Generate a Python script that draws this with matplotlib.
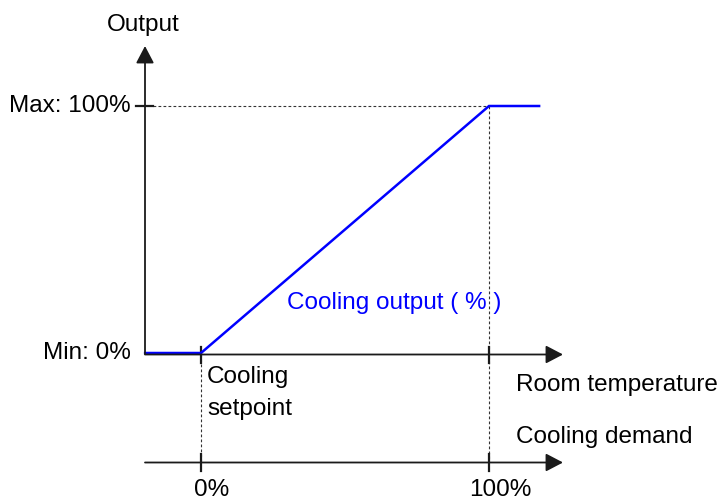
import matplotlib
matplotlib.use("Agg")
import matplotlib.pyplot as plt

plt.rcParams['font.family'] = ['Liberation Sans', 'DejaVu Sans']

# ---- data ----
demand_ticks = [0, 100]
demand_labels = ["0%", "100%"]
output_levels = [0, 100]
output_labels = ["Min: 0%", "Max: 100%"]
curve_demand = [-19.4, 0, 100, 117.4]
curve_output = [0, 0, 100, 100]
curve_label = "Cooling output ( % )"
y_title = "Output"
x_title_top = "Room temperature"
x_title_bottom = "Cooling demand"
setpoint_lines = ["Cooling", "setpoint"]

W, H = 722, 503
fig = plt.figure(figsize=(W / 100, H / 100), dpi=100)
ax = fig.add_axes([0, 0, 1, 1])
ax.axis('off')

# pixel layout -> data mapping
X0, XS = 201, 2.88   # pixel of 0 %, pixels per %
Y0, YS = 353, 2.47
ax.set_xlim(-X0 / XS, (W - X0) / XS)
ax.set_ylim((Y0 - H) / YS, Y0 / YS)

def px(x):
    return (x - X0) / XS

def py(y):
    return (Y0 - y) / YS

axis_col = '#1a1a1a'
dot_col = '#333333'
fs = 17.5
arrow_style = '-|>,head_length=1.05,head_width=0.55'

def arrow(x1, y1, x2, y2):
    ax.annotate('', xy=(x2, y2), xytext=(x1, y1),
                arrowprops=dict(arrowstyle=arrow_style, color=axis_col, lw=1.3,
                                mutation_scale=10, shrinkA=0, shrinkB=0))

# dotted guide lines
ax.plot([px(153), demand_ticks[1]], [output_levels[1], output_levels[1]],
        color=dot_col, lw=0.8, ls=(0, (2.5, 2)))
ax.plot([demand_ticks[1], demand_ticks[1]], [output_levels[1], py(462)],
        color=dot_col, lw=0.8, ls=(0, (2.5, 2)))
ax.plot([demand_ticks[0], demand_ticks[0]], [py(354), py(462)],
        color=dot_col, lw=0.8, ls=(0, (2.5, 2)))

# y axis
arrow(px(145), py(354), px(145), py(46))
ax.plot([px(136), px(153)], [output_levels[1], output_levels[1]], color=axis_col, lw=1.6)

# room temperature axis
arrow(px(145), py(354.5), px(563), py(354.5))
# cooling demand axis
arrow(px(145), py(462.5), px(563), py(462.5))

for d in demand_ticks:
    ax.plot([d, d], [py(347), py(363)], color=axis_col, lw=1.6)
    ax.plot([d, d], [py(454), py(471)], color=axis_col, lw=1.6)

# curve
ax.plot(curve_demand, curve_output, color='#0000ff', lw=1.8, solid_joinstyle='miter')

# texts
for lvl, lab in zip(output_levels, output_labels):
    ax.text(px(131), lvl, lab, ha='right', va='center', fontsize=fs, color='black')
for d, lab in zip(demand_ticks, demand_labels):
    ax.text(d + px(212) - px(201), py(490), lab, ha='center', va='center', fontsize=fs)

ax.text(px(143), py(25), y_title, ha='center', va='center', fontsize=fs)
ax.text(px(516), py(385), x_title_top, ha='left', va='center', fontsize=fs)
ax.text(px(516), py(437), x_title_bottom, ha='left', va='center', fontsize=fs)
for i, line in enumerate(setpoint_lines):
    ax.text(px(207), py(377 + 32 * i), line, ha='left', va='center', fontsize=fs)
ax.text(px(287), py(303), curve_label, ha='left', va='center', fontsize=fs, color='#0000ff')

fig.savefig('out.png', dpi=100)
